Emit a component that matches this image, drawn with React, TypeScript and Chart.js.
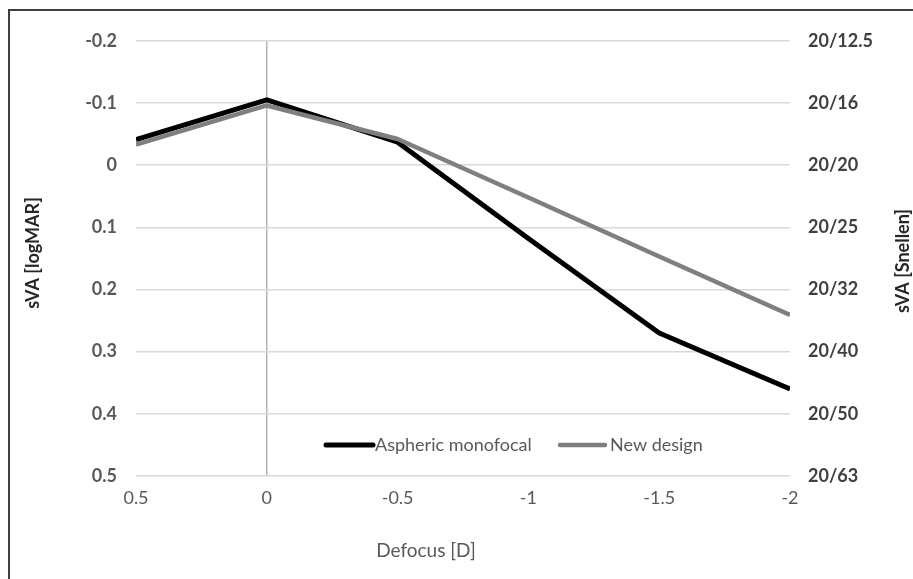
import React, { useEffect, useRef } from "react";
import { Chart, registerables } from "chart.js";

Chart.register(...registerables);

const defocus = [0.5, 0, -0.5, -1, -1.5, -2];
const asphericMonofocal = [-0.041, -0.105, -0.037, 0.118, 0.27, 0.36];
const newDesign = [-0.033, -0.096, -0.042, 0.052, 0.147, 0.241];
const snellenLabels = ["20/12.5", "20/16", "20/20", "20/25", "20/32", "20/40", "20/50", "20/63"];
const seriesNames = ["Aspheric monofocal", "New design"];
const seriesColors = ["#000000", "#7f7f7f"];

const FONT = "Lato, 'Open Sans', sans-serif";

const overlay = {
  id: "overlay",
  afterDraw(chart: any) {
    const ctx = chart.ctx;
    ctx.save();
    ctx.fillStyle = "#262626";
    ctx.font = `bold 18px ${FONT}`;
    ctx.textAlign = "center";
    ctx.textBaseline = "middle";
    ctx.save();
    ctx.translate(23, 242);
    ctx.rotate(-Math.PI / 2);
    ctx.fillText("sVA [logMAR]", 0, 0);
    ctx.restore();
    ctx.save();
    ctx.translate(893, 250);
    ctx.rotate(-Math.PI / 2);
    ctx.fillText("sVA [Snellen]", 0, 0);
    ctx.restore();
    ctx.fillStyle = "#595959";
    ctx.font = `19px ${FONT}`;
    ctx.fillText("Defocus [D]", 416, 540);
    const items = [
      { x1: 316, x2: 363, tx: 365, w: 5 },
      { x1: 550, x2: 595, tx: 600, w: 4.5 },
    ];
    const ly = 434;
    ctx.font = `18px ${FONT}`;
    items.forEach((it, i) => {
      ctx.strokeStyle = seriesColors[i];
      ctx.lineWidth = it.w;
      ctx.lineCap = "round";
      ctx.beginPath();
      ctx.moveTo(it.x1, ly);
      ctx.lineTo(it.x2, ly);
      ctx.stroke();
      ctx.fillStyle = "#595959";
      ctx.textAlign = "left";
      ctx.fillText(seriesNames[i], it.tx, ly);
    });
    ctx.restore();
  },
};

export default function App() {
  const ref = useRef<HTMLCanvasElement>(null);
  useEffect(() => {
    if (!ref.current) return;
    const chart = new Chart(ref.current, {
      type: "line",
      data: {
        datasets: [
          {
            label: seriesNames[0],
            data: defocus.map((x, i) => ({ x, y: asphericMonofocal[i] })),
            borderColor: seriesColors[0],
            backgroundColor: seriesColors[0],
            borderWidth: 5,
            pointRadius: 0,
            borderJoinStyle: "round",
            order: 1,
          },
          {
            label: seriesNames[1],
            data: defocus.map((x, i) => ({ x, y: newDesign[i] })),
            borderColor: seriesColors[1],
            backgroundColor: seriesColors[1],
            borderWidth: 4.5,
            pointRadius: 0,
            borderJoinStyle: "round",
            order: 0,
          },
        ],
      },
      options: {
        responsive: false,
        animation: false,
        layout: { padding: { top: 27, left: 0, right: 0, bottom: 0 } },
        plugins: { legend: { display: false }, tooltip: { enabled: false } },
        scales: {
          x: {
            type: "linear",
            reverse: true,
            min: -2,
            max: 0.5,
            afterFit: (s: any) => {
              s.height = 103;
            },
            border: { display: false },
            grid: {
              drawTicks: false,
              lineWidth: 1.5,
              color: (c: any) => (c.tick && c.tick.value === 0 ? "#b3b3b3" : "rgba(0,0,0,0)"),
            },
            ticks: {
              stepSize: 0.5,
              padding: 11,
              color: "#595959",
              font: { family: FONT, size: 18 },
              callback: (v: any) => String(Math.round(Number(v) * 10) / 10),
            },
          },
          y: {
            position: "left",
            reverse: true,
            min: -0.2,
            max: 0.5,
            afterFit: (s: any) => {
              s.width = 126;
            },
            border: { display: false },
            grid: { drawTicks: false, color: "#d9d9d9", lineWidth: 1.5 },
            ticks: {
              stepSize: 0.1,
              padding: 19,
              color: "#595959",
              font: { family: FONT, size: 18, weight: "bold" },
              callback: (v: any) => String(Math.round(Number(v) * 10) / 10),
            },
          },
          y2: {
            position: "right",
            reverse: true,
            min: -0.2,
            max: 0.5,
            afterFit: (s: any) => {
              s.width = 123;
            },
            border: { display: false },
            grid: { display: false, drawTicks: false },
            ticks: {
              stepSize: 0.1,
              padding: 18,
              color: "#404040",
              font: { family: FONT, size: 18, weight: "bold" },
              callback: (v: any) => snellenLabels[Math.round((Number(v) + 0.2) * 10)],
            },
          },
        },
      },
      plugins: [overlay],
    } as any);
    return () => chart.destroy();
  }, []);
  return (
    <div
      style={{
        position: "fixed",
        left: 8,
        top: 9,
        right: 0,
        bottom: 0,
        borderTop: "2px solid #404040",
        borderLeft: "2px solid #404040",
        background: "#fff",
        overflow: "hidden",
      }}
    >
      <canvas ref={ref} width={903} height={568} style={{ display: "block" }} />
    </div>
  );
}
